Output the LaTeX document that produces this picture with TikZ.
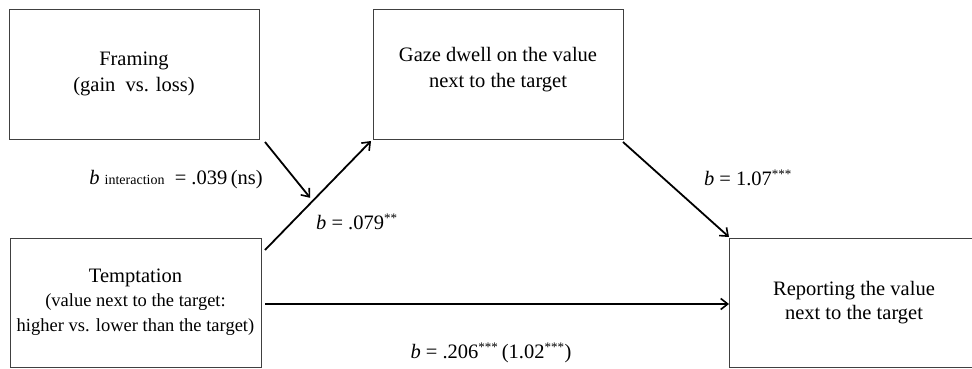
\documentclass[tikz,border=0pt]{standalone}
\usepackage{fontspec}
\setmainfont{Liberation Serif}
\usetikzlibrary{arrows.meta,calc}
\newcommand{\txtbig}{\fontsize{20.5}{26}\selectfont}
\newcommand{\txtsmall}{\fontsize{18.5}{22.5}\selectfont}
\newcommand{\bstar}[1]{\textsuperscript{\fontsize{13}{13}\selectfont #1}}
\begin{document}
\begin{tikzpicture}[x=1pt,y=1pt,
		box/.style={draw=black!75, line width=0.8pt, inner sep=0pt, outer sep=0pt,
			minimum width=250pt, minimum height=130pt, align=center, font=\txtbig},
		arr/.style={line width=1.8pt, -{Straight Barb[length=7pt,width=11pt,line width=1.6pt]}},
		lbl/.style={font=\txtbig, inner sep=0pt}]
	\useasboundingbox (0,0) rectangle (972,-369);
	% boxes
	\node[box] (fram) at (134,-74) {Framing\\(gain\ \ vs. loss)};
	\node[box, text depth=14pt] (gaze) at (498,-74) {Gaze dwell on the value\\next to the target};
	\node[box, minimum width=251pt, minimum height=129pt] (temp) at (135.5,-302.5)
		{Temptation\\[-2pt]{\txtsmall(value next to the target:}\\[-1pt]{\txtsmall higher vs. lower than the target)}};
	\node[box, minimum height=129pt] (rep) at (854,-302.5) {Reporting the value\\[-2pt]next to the target};
	% paths
	\coordinate (ts) at ([shift={(4,-12)}]temp.north east);
	\coordinate (te) at ([shift={(-2,-2)}]gaze.south west);
	\coordinate (mid) at ($(ts)!0.45!(te)$);
	\draw[arr] (ts) -- (te);
	\draw[arr, shorten >=4pt] ([shift={(6,-3)}]fram.south east) -- (mid);
	\draw[arr] ([yshift=-3pt]gaze.south east) -- ([yshift=1pt]rep.north west);
	\draw[arr] ([shift={(4,-1.5)}]temp.east) -- ([yshift=-1.5pt]rep.west);
	% labels
	\node[lbl] (lint) at (176,-180) {\textit{b} {\fontsize{14}{14}\selectfont interaction}\ \ = .039\,(ns)};
	\node[lbl, anchor=west] (la) at (316,-222) {\textit{b} = .079\bstar{**}};
	\node[lbl] (lb) at (748,-178) {\textit{b} = 1.07\bstar{***}};
	\node[lbl] (lc) at (491,-353) {\textit{b} = .206\bstar{***}\,(1.02\bstar{***})};
\end{tikzpicture}
\end{document}
